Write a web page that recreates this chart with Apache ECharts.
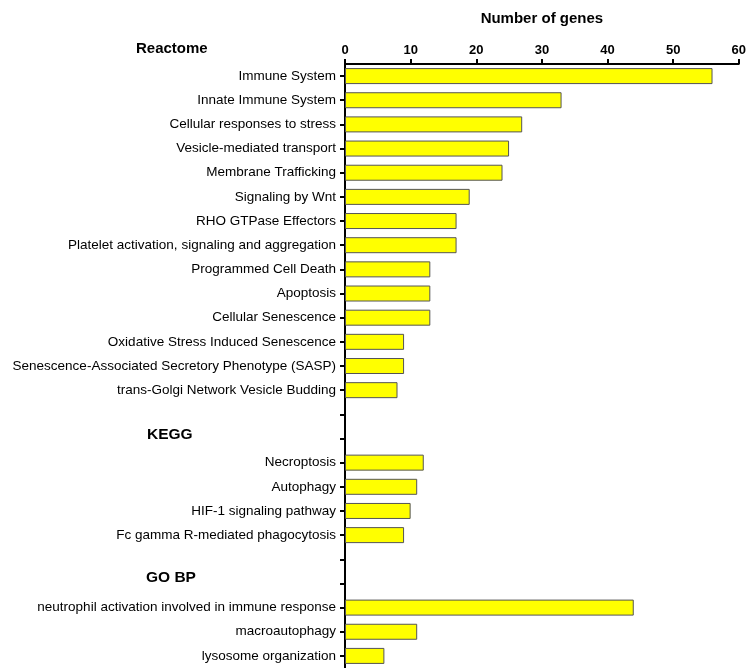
<!DOCTYPE html>
<html>
<head>
<meta charset="utf-8">
<script src="https://cdn.jsdelivr.net/npm/echarts@6/dist/echarts.min.js"></script>
<style>
  html, body { margin: 0; padding: 0; background: #fff; }
  #chart { width: 749px; height: 668px; }
</style>
</head>
<body>
<div id="chart"></div>
<script>
// Enrichment term gene counts, per database
const reactomeTerms = [
  'Immune System', 'Innate Immune System', 'Cellular responses to stress',
  'Vesicle-mediated transport', 'Membrane Trafficking', 'Signaling by Wnt',
  'RHO GTPase Effectors', 'Platelet activation, signaling and aggregation',
  'Programmed Cell Death', 'Apoptosis', 'Cellular Senescence',
  'Oxidative Stress Induced Senescence',
  'Senescence-Associated Secretory Phenotype (SASP)',
  'trans-Golgi Network Vesicle Budding'
];
const reactomeCounts = [56, 33, 27, 25, 24, 19, 17, 17, 13, 13, 13, 9, 9, 8];

const keggTerms = ['Necroptosis', 'Autophagy', 'HIF-1 signaling pathway', 'Fc gamma R-mediated phagocytosis'];
const keggCounts = [12, 11, 10, 9];

const goTerms = ['neutrophil activation involved in immune response', 'macroautophagy', 'lysosome organization'];
const goCounts = [44, 11, 6];

const sectionTitles = ['Reactome', 'KEGG', 'GO BP'];
const xTicks = { min: 0, max: 60, step: 10 };

// Two empty rows separate each database block
const gap = (k) => ['__gap' + k + 'a', '__gap' + k + 'b'];
const categories = [].concat(reactomeTerms, gap(1), keggTerms, gap(2), goTerms);
const values = [].concat(reactomeCounts, [null, null], keggCounts, [null, null], goCounts);

const font = '"Liberation Sans", Arial, Helvetica, sans-serif';
const chart = echarts.init(document.getElementById('chart'));

chart.setOption({
  animation: false,
  grid: { left: 345, right: 10, top: 64, bottom: -1 },
  xAxis: {
    type: 'value',
    position: 'top',
    min: xTicks.min, max: xTicks.max, interval: xTicks.step,
    name: 'Number of genes',
    nameLocation: 'middle',
    nameGap: 38,
    nameTextStyle: { fontFamily: font, fontWeight: 'bold', fontSize: 15, color: '#000' },
    axisLine: { show: true, lineStyle: { color: '#000', width: 2 } },
    axisTick: { show: true, length: 5, lineStyle: { color: '#000', width: 2 } },
    axisLabel: { fontFamily: font, fontWeight: 'bold', fontSize: 13, color: '#000', margin: 7 },
    splitLine: { show: false }
  },
  yAxis: {
    type: 'category',
    inverse: true,
    data: categories,
    axisLine: { show: true, lineStyle: { color: '#000', width: 2 } },
    axisTick: { show: true, alignWithLabel: true, length: 5, lineStyle: { color: '#000', width: 2 } },
    axisLabel: {
      fontFamily: font, fontSize: 13.5, color: '#000', margin: 9,
      formatter: (v) => v.startsWith('__gap') ? '' : v
    }
  },
  series: [{
    type: 'bar',
    data: values,
    barWidth: 16,
    itemStyle: { color: '#ffff00', borderColor: '#555', borderWidth: 1 }
  }],
  graphic: [
    { type: 'text', left: 136, top: 41, style: { text: sectionTitles[0], fontFamily: font, fontWeight: 'bold', fontSize: 15, fill: '#000' } },
    { type: 'text', left: 147, top: 427, style: { text: sectionTitles[1], fontFamily: font, fontWeight: 'bold', fontSize: 15.5, fill: '#000' } },
    { type: 'text', left: 146, top: 570, style: { text: sectionTitles[2], fontFamily: font, fontWeight: 'bold', fontSize: 15.5, fill: '#000' } }
  ]
});
</script>
</body>
</html>
